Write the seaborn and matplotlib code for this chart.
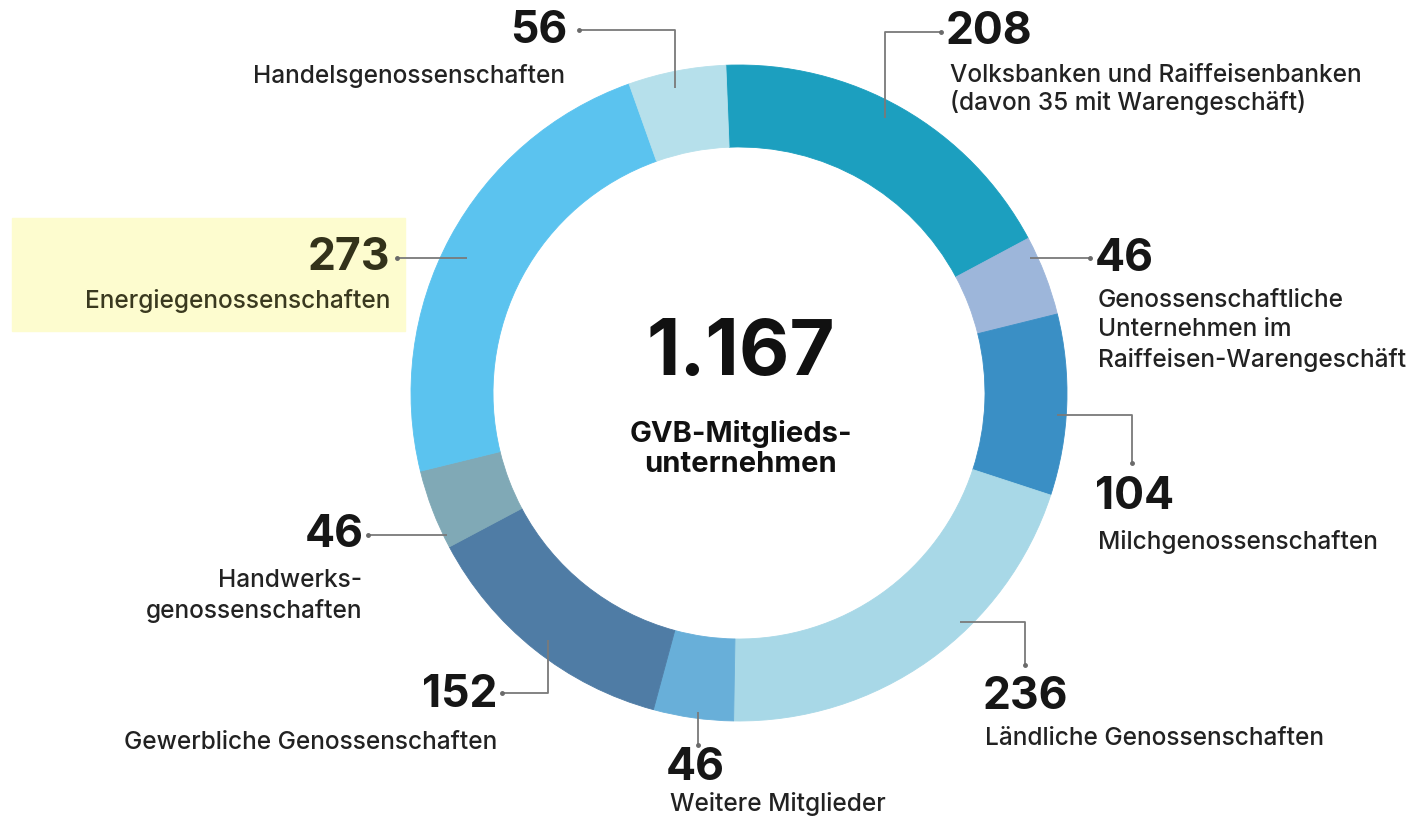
import matplotlib.pyplot as plt
import matplotlib.patches as mpatches
import seaborn as sns

# data (clockwise from the top)
counts = [208, 46, 104, 236, 46, 152, 46, 273, 56]
names = [
    "Volksbanken und Raiffeisenbanken\n(davon 35 mit Warengeschäft)",
    "Genossenschaftliche\nUnternehmen im\nRaiffeisen-Warengeschäft",
    "Milchgenossenschaften",
    "Ländliche Genossenschaften",
    "Weitere Mitglieder",
    "Gewerbliche Genossenschaften",
    "Handwerks-\ngenossenschaften",
    "Energiegenossenschaften",
    "Handelsgenossenschaften",
]
colors = ["#1c9fbf", "#9db6da", "#3a8fc5", "#a8d8e7", "#68afd9",
          "#4f7ca5", "#80a9b6", "#5bc3ef", "#b6e0eb"]
total_label = "1.167"
center_label = "GVB-Mitglieds-\nunternehmen"

# layout in pixel coords (y down): number pos, name pos, alignment, line spacing, leader path
layout = [
    ((946, 32), (950, 64), "left", 1.13, [(885, 118), (885, 32), (941, 32)]),
    ((1095, 259), (1098, 289), "left", 1.36, [(1030, 258), (1090, 258)]),
    ((1095, 497), (1098, 530), "left", 1.2, [(1057, 415), (1132, 415), (1132, 463)]),
    ((983, 697), (985, 727), "left", 1.2, [(960, 622), (1025, 622), (1025, 665)]),
    ((666, 768), (670, 792), "left", 1.2, [(698, 712), (698, 745)]),
    ((497, 695), (497, 731), "right", 1.2, [(548, 640), (548, 693), (502, 693)]),
    ((364, 535), (362, 569), "right", 1.36, [(447, 535), (368, 535)]),
    ((390, 258), (390, 289), "right", 1.2, [(467, 258), (397, 258)]),
    ((567, 31), (565, 64), "right", 1.2, [(675, 88), (675, 30), (579, 30)]),
]

sns.set_theme(style="white")
plt.rcParams["font.family"] = ["Inter", "DejaVu Sans"]

fig = plt.figure(figsize=(14.1, 8.19), dpi=100)
ax = fig.add_axes([0, 0, 1, 1])

# highlight behind the energy label
ax.add_patch(mpatches.Rectangle((12, 218), 393, 113, color="#fdfccf", zorder=0))

wedges, _ = ax.pie(counts, colors=colors, startangle=267.7, counterclock=True,
                   center=(739, 393), radius=328,
                   wedgeprops=dict(width=82, linewidth=0.6))
for w in wedges:
    w.set_edgecolor(w.get_facecolor())
ax.set_xlim(0, 1410)
ax.set_ylim(819, 0)
ax.set_aspect("auto")
ax.axis("off")

for i, (num_xy, name_xy, ha, ls, path) in enumerate(layout):
    txt_col = "#33321a" if i == 7 else "#161616"
    name_col = "#3a391f" if i == 7 else "#222222"
    xs = [p[0] for p in path]
    ys = [p[1] for p in path]
    ax.plot(xs, ys, color="#7a7a7a", lw=1.3, solid_capstyle="butt", zorder=3)
    ax.plot(xs[-1], ys[-1], "o", ms=2.5, color="#6a6a6a", zorder=3)
    ax.text(num_xy[0], num_xy[1], str(counts[i]), ha=ha, va="center",
            fontsize=32, fontweight="bold", color=txt_col)
    ax.text(name_xy[0], name_xy[1], names[i], ha=ha, va="top",
            multialignment=ha, fontsize=17.6, fontweight="medium",
            color=name_col, linespacing=ls)

ax.text(741, 354, total_label, ha="center", va="center", fontsize=56,
        fontweight="bold", color="#111111")
ax.text(741, 449, center_label, ha="center", va="center", fontsize=21,
        fontweight="bold", color="#111111", linespacing=1.15)

fig.savefig("out.png", dpi=100)
